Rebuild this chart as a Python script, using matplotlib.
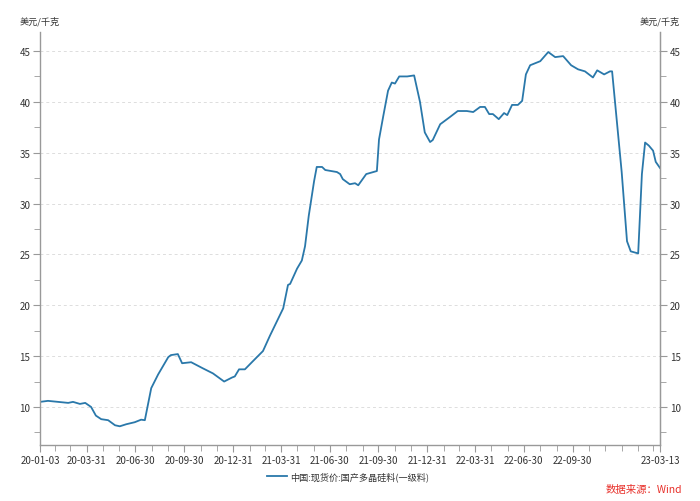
import pandas as pd
import matplotlib
matplotlib.use("Agg")
from matplotlib import pyplot as plt
from matplotlib.ticker import MultipleLocator, FixedLocator

plt.rcParams["font.family"] = ["Noto Sans CJK SC", "DejaVu Sans"]

# weekly spot price
dates = [
    "2020-01-03", "2020-01-18", "2020-02-06", "2020-02-25", "2020-03-05",
    "2020-03-18", "2020-03-28", "2020-04-08", "2020-04-17", "2020-04-27",
    "2020-05-10", "2020-05-23", "2020-06-01", "2020-06-13", "2020-06-29",
    "2020-07-11", "2020-07-18", "2020-07-30", "2020-08-12", "2020-08-31",
    "2020-09-05", "2020-09-18", "2020-09-26", "2020-10-13", "2020-11-04",
    "2020-11-23", "2020-12-14", "2020-12-29", "2021-01-03", "2021-01-11",
    "2021-01-22", "2021-02-06", "2021-02-25", "2021-03-10", "2021-04-04", "2021-04-13",
    "2021-04-17", "2021-04-30", "2021-05-09", "2021-05-15", "2021-05-22",
    "2021-06-01", "2021-06-06", "2021-06-16", "2021-06-22", "2021-07-14",
    "2021-07-20", "2021-07-25", "2021-08-07", "2021-08-17", "2021-08-23",
    "2021-09-07", "2021-09-27", "2021-10-01", "2021-10-09", "2021-10-18",
    "2021-10-25", "2021-10-31", "2021-11-08", "2021-11-23", "2021-12-06",
    "2021-12-17", "2021-12-26", "2022-01-05", "2022-01-10", "2022-01-24",
    "2022-02-11", "2022-02-26", "2022-03-15", "2022-03-27", "2022-04-09",
    "2022-04-18", "2022-04-26", "2022-05-03", "2022-05-14", "2022-05-24",
    "2022-05-30", "2022-06-08", "2022-06-19", "2022-06-27", "2022-07-04",
    "2022-07-12", "2022-07-31", "2022-08-15", "2022-08-28", "2022-09-12",
    "2022-09-27", "2022-10-10", "2022-10-23", "2022-11-07", "2022-11-15",
    "2022-11-28", "2022-12-09", "2022-12-13", "2022-12-31", "2023-01-10",
    "2023-01-17", "2023-01-31", "2023-02-07", "2023-02-13", "2023-02-20",
    "2023-02-28", "2023-03-05", "2023-03-13",
]
price = [
    10.5, 10.6, 10.5, 10.4, 10.5,
    10.3, 10.4, 10.0, 9.15, 8.8,
    8.7, 8.2, 8.1, 8.3, 8.5,
    8.75, 8.7, 11.85, 13.2, 14.9,
    15.1, 15.2, 14.3, 14.4, 13.8,
    13.3, 12.5, 12.9, 13.0, 13.7,
    13.7, 14.5, 15.5, 17.0, 19.7, 22.0,
    22.1, 23.6, 24.4, 25.8, 28.8,
    32.2, 33.6, 33.6, 33.3, 33.1,
    32.9, 32.4, 31.9, 32.0, 31.8,
    32.9, 33.2, 36.3, 38.6, 41.1,
    41.9, 41.8, 42.5, 42.5, 42.6,
    40.0, 37.0, 36.05, 36.25, 37.8,
    38.5, 39.1, 39.1, 39.0, 39.5,
    39.5, 38.8, 38.8, 38.3, 38.9,
    38.7, 39.7, 39.7, 40.1, 42.7,
    43.6, 44.0, 44.9, 44.4, 44.5,
    43.6, 43.2, 43.0, 42.4, 43.1,
    42.7, 43.0, 43.0, 33.1, 26.3,
    25.3, 25.1, 32.9, 36.0, 35.7,
    35.2, 34.1, 33.5,
]
label_dates = [
    "2020-01-03", "2020-03-31", "2020-06-30", "2020-09-30", "2020-12-31",
    "2021-03-31", "2021-06-30", "2021-09-30", "2021-12-31", "2022-03-31",
    "2022-06-30", "2022-09-30", "2023-03-13",
]
series_name = "中国:现货价:国产多晶硅料(一级料)"
unit = "美元/千克"
source = "数据来源：Wind"

x = pd.to_datetime(dates)
xl = pd.to_datetime(label_dates)
minor = pd.date_range("2020-01-31", "2023-02-28", freq="ME")

axis_c = "#999999"
text_c = "#333333"
line_c = "#2a78aa"
fs_tick = 7.0
fs_cjk = 6.6

fig = plt.figure(figsize=(7.0, 5.02), dpi=100)
ax = fig.add_axes([40 / 700, 1 - 446 / 502, 620 / 700, 413 / 502])
ax.plot(x, price, color=line_c, lw=1.3, label=series_name)

ax.set_xlim(x[0], x[-1])
ax.set_ylim(6.26, 46.87)
ax.yaxis.set_major_locator(MultipleLocator(5))
ax.yaxis.set_minor_locator(MultipleLocator(2.5))
ax.grid(axis="y", color="#dddddd", ls=(0, (3, 3)), lw=0.7)
ax.set_axisbelow(True)

ax.xaxis.set_major_locator(FixedLocator(matplotlib.dates.date2num(xl)))
ax.xaxis.set_minor_locator(FixedLocator(matplotlib.dates.date2num(minor)))
ax.set_xticklabels([d.strftime("%y-%m-%d") for d in xl])

ax.spines["top"].set_visible(False)
for s in ["left", "right", "bottom"]:
    ax.spines[s].set_color(axis_c)
    ax.spines[s].set_linewidth(1.0)

ax.tick_params(axis="both", which="both", color=axis_c, labelcolor=text_c,
               labelsize=fs_tick, direction="out")
ax.tick_params(axis="both", which="major", length=5, pad=2)
ax.tick_params(axis="both", which="minor", length=4)

ax2 = ax.twinx()
ax2.set_ylim(ax.get_ylim())
ax2.yaxis.set_major_locator(MultipleLocator(5))
ax2.yaxis.set_minor_locator(MultipleLocator(2.5))
for s in ["top", "left", "bottom"]:
    ax2.spines[s].set_visible(False)
ax2.spines["right"].set_color(axis_c)
ax2.tick_params(axis="y", which="both", color=axis_c, labelcolor=text_c,
                labelsize=fs_tick, direction="out")
ax2.tick_params(axis="y", which="major", length=5, pad=2)
ax2.tick_params(axis="y", which="minor", length=4)

fig.text(40 / 700, 1 - 22 / 502, unit, ha="center", va="center",
         fontsize=fs_cjk, color=text_c)
fig.text(660 / 700, 1 - 22 / 502, unit, ha="center", va="center",
         fontsize=fs_cjk, color=text_c)

ax.legend(loc="center", bbox_to_anchor=(348 / 700, 1 - 477 / 502),
          bbox_transform=fig.transFigure, frameon=False, fontsize=fs_cjk,
          handlelength=2.2, handletextpad=0.4, labelcolor=text_c)

fig.text(682 / 700, 1 - 490 / 502, source, ha="right", va="center",
         fontsize=7.5, color="#e8302a")

fig.savefig("out.png", dpi=100)
